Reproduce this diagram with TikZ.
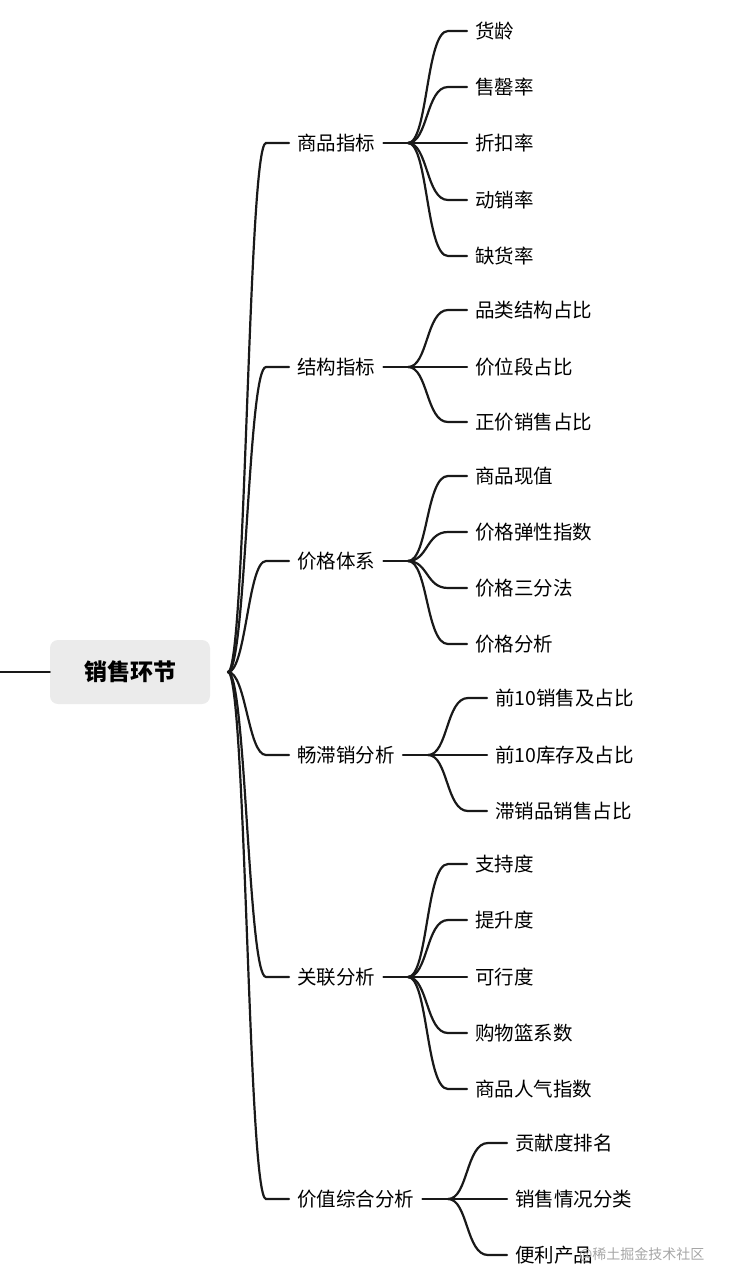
\documentclass[tikz,border=0pt]{standalone}
\usepackage{fontspec}
\setmainfont{Noto Sans CJK SC}
\begin{document}
\begin{tikzpicture}[x=1pt,y=-1pt,
  lbl/.style={anchor=west,inner xsep=8pt,inner ysep=0pt,font=\fontsize{19.5}{22}\selectfont},
  br/.style={line width=2.2pt,line cap=round,color=black!90}]
\useasboundingbox (0,0) rectangle (730,1288);
\node[fill=black!8,rounded corners=8pt,minimum width=160pt,minimum height=64pt,font=\fontsize{23}{26}\selectfont\bfseries] (root) at (130,672) {销售环节};
\coordinate (lft) at (0,672);
\coordinate (c0) at (228,672);
\draw[br] (lft) -- (root.west);
\foreach \n/\t/\y/\fx in {a/商品指标/143/408, b/结构指标/367/408, c/价格体系/561/408, d/畅滞销分析/755/428, e/关联分析/977/408, f/价值综合分析/1199/448}{
  \node[lbl] (\n) at (289,\y) {\t};
  \draw[br] (c0) .. controls (246,672) and (248,\y) .. (266,\y) -- (\n.west);
  \coordinate (\n f) at (\fx,\y);
  \draw[br] (\n.east) -- (\n f);
}
% #1 fork x, #2 parent y, #3 parent, #4 name, #5 y, #6 text
\newcommand\kid[6]{%
  \node[lbl] (#4) at ({#1+59},#5) {#6};
  \draw[br] (#3f) .. controls ({#1+20},#2) and ({#1+18},#5) .. ({#1+40},#5) -- (#4.west);
}
\kid{408}{143}{a}{a1}{31}{货龄}
\kid{408}{143}{a}{a2}{87}{售罄率}
\kid{408}{143}{a}{a3}{143}{折扣率}
\kid{408}{143}{a}{a4}{200}{动销率}
\kid{408}{143}{a}{a5}{256}{缺货率}
\kid{408}{367}{b}{b1}{310}{品类结构占比}
\kid{408}{367}{b}{b2}{367}{价位段占比}
\kid{408}{367}{b}{b3}{422}{正价销售占比}
\kid{408}{561}{c}{c1}{476}{商品现值}
\kid{408}{561}{c}{c2}{532}{价格弹性指数}
\kid{408}{561}{c}{c3}{588}{价格三分法}
\kid{408}{561}{c}{c4}{644}{价格分析}
\kid{428}{755}{d}{d1}{698}{前10销售及占比}
\kid{428}{755}{d}{d2}{755}{前10库存及占比}
\kid{428}{755}{d}{d3}{811}{滞销品销售占比}
\kid{408}{977}{e}{e1}{864}{支持度}
\kid{408}{977}{e}{e2}{920}{提升度}
\kid{408}{977}{e}{e3}{977}{可行度}
\kid{408}{977}{e}{e4}{1033}{购物篮系数}
\kid{408}{977}{e}{e5}{1089}{商品人气指数}
\kid{448}{1199}{f}{f1}{1143}{贡献度排名}
\kid{448}{1199}{f}{f2}{1199}{销售情况分类}
\kid{448}{1199}{f}{f3}{1255}{便利产品}
\node[anchor=east,text=black!35,font=\fontsize{14}{16}\selectfont] (wm) at (708,1255) {@稀土掘金技术社区};
\end{tikzpicture}
\end{document}
